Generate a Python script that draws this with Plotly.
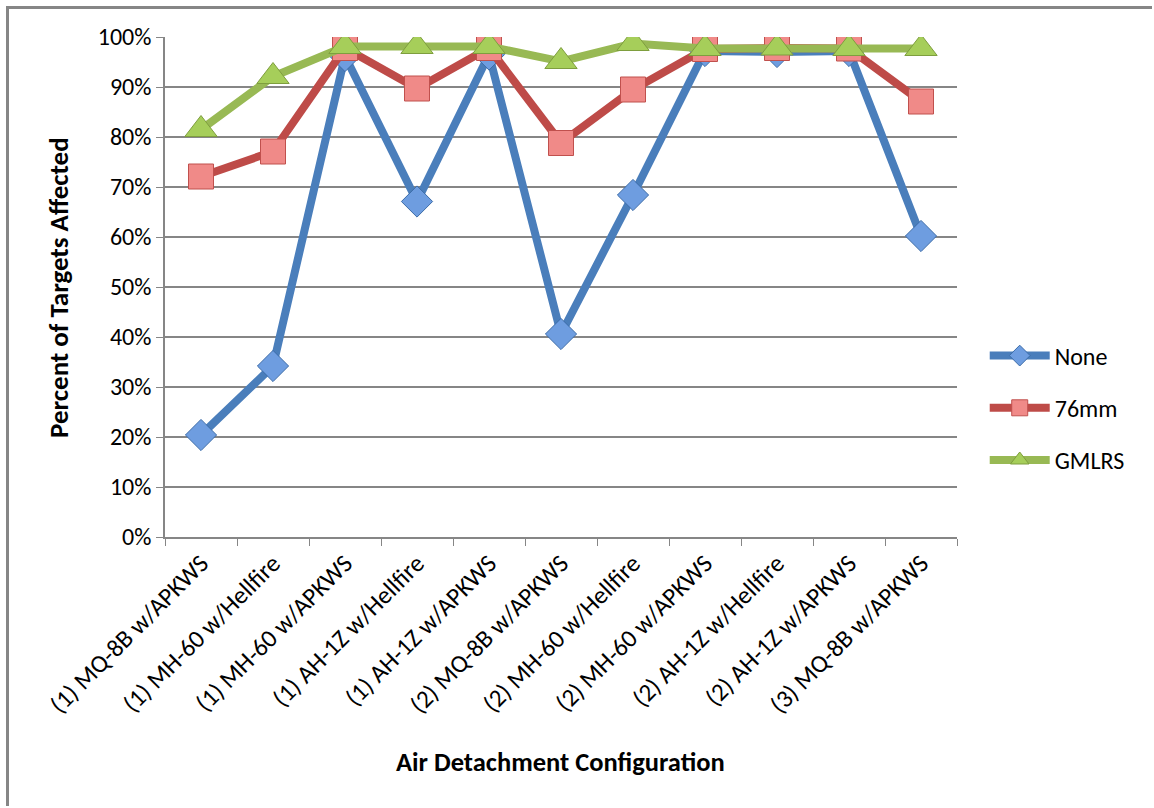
import plotly.graph_objects as go

categories = [
    "(1) MQ-8B w/APKWS", "(1) MH-60 w/Hellfire", "(1) MH-60 w/APKWS",
    "(1) AH-1Z w/Hellfire", "(1) AH-1Z w/APKWS", "(2) MQ-8B w/APKWS",
    "(2) MH-60 w/Hellfire", "(2) MH-60 w/APKWS", "(2) AH-1Z w/Hellfire",
    "(2) AH-1Z w/APKWS", "(3) MQ-8B w/APKWS",
]
none_vals = [0.204, 0.342, 0.962, 0.671, 0.965, 0.406, 0.684, 0.972, 0.970, 0.972, 0.602]
mm76_vals = [0.721, 0.771, 0.978, 0.897, 0.978, 0.788, 0.895, 0.976, 0.978, 0.977, 0.871]
gmlrs_vals = [0.815, 0.921, 0.981, 0.981, 0.981, 0.951, 0.987, 0.977, 0.978, 0.977, 0.977]
y_ticks = [i / 10 for i in range(11)]
y_tick_labels = [f"{i * 10}%" for i in range(11)]

FONT = "Carlito, Lato, 'Liberation Sans', sans-serif"

fig = go.Figure()
series = [
    ("None", none_vals, "#4A7EBB", "diamond", 24, "#6E9DE0", "#3C6CA8"),
    ("76mm", mm76_vals, "#BE4B48", "square", 25, "#F08A88", "#C0504D"),
    ("GMLRS", gmlrs_vals, "#98B954", "triangle-up", 28, "#A6CE5A", "#7E9E3E"),
]
for i, (name, vals, lc, sym, sz, mfill, mline) in enumerate(series):
    fig.add_trace(go.Scatter(
        x=categories, y=vals, name=name, mode="lines+markers",
        line=dict(color=lc, width=8),
        marker=dict(symbol=sym, size=sz, color=mfill, line=dict(color=mline, width=1)),
        legendgroup=f"g{i}",
    ))

fig.update_layout(
    width=1154, height=808,
    margin=dict(l=165, r=197, t=37, b=271),
    paper_bgcolor="white", plot_bgcolor="white",
    font=dict(family=FONT, size=24, color="black"),
    showlegend=True,
    legend=dict(x=1.035, y=0.258, xanchor="left", yanchor="middle",
                font=dict(family=FONT, size=24, color="black"),
                tracegroupgap=18, itemwidth=60, bgcolor="rgba(0,0,0,0)"),
    xaxis=dict(
        type="category", tickangle=-45, tickson="boundaries",
        ticks="outside", ticklen=7, tickcolor="#868686",
        showline=True, linecolor="#868686", linewidth=1.5,
        showgrid=False, tickfont=dict(family=FONT, size=25, color="black"),
        range=[-0.5, 10.5],
    ),
    yaxis=dict(
        range=[0, 1], tickvals=y_ticks, ticktext=y_tick_labels,
        ticks="outside", ticklen=7, tickcolor="#868686",
        showline=True, linecolor="#868686", linewidth=1.5,
        showgrid=True, gridcolor="#868686", gridwidth=1.5,
        zeroline=False, tickfont=dict(family=FONT, size=24, color="black"),
    ),
    annotations=[
        dict(text="<b>Percent of Targets Affected</b>", x=58, y=287,
             xref="paper", yref="paper", showarrow=False, textangle=-90,
             font=dict(family=FONT, size=27, color="black")),
        dict(text="<b>Air Detachment Configuration</b>", x=560, y=762,
             xref="paper", yref="paper", showarrow=False,
             font=dict(family=FONT, size=26.5, color="black")),
    ],
)

pl, pr, pt, pb = 165, 957, 37, 537
def px(x):
    return (x - pl) / (pr - pl)
def py(y):
    return (pb - y) / (pb - pt)

anns = list(fig.layout.annotations)
for a in anns:
    a.x = px(a.x)
    a.y = py(a.y)
    a.xanchor = "center"
    a.yanchor = "middle"
fig.layout.annotations = anns

# outer chart frame drawn as thin filled bands (top and left edges)
fig.add_shape(type="rect", xref="paper", yref="paper", layer="above",
              x0=px(6), x1=px(1152), y0=py(9), y1=py(6),
              fillcolor="#868686", line=dict(width=0))
fig.add_shape(type="rect", xref="paper", yref="paper", layer="above",
              x0=px(6), x1=px(9), y0=py(806), y1=py(6),
              fillcolor="#868686", line=dict(width=0))

fig.write_html("out.html", config={"displayModeBar": False},
               post_script="document.body.style.margin='0';document.body.style.overflow='hidden';")
